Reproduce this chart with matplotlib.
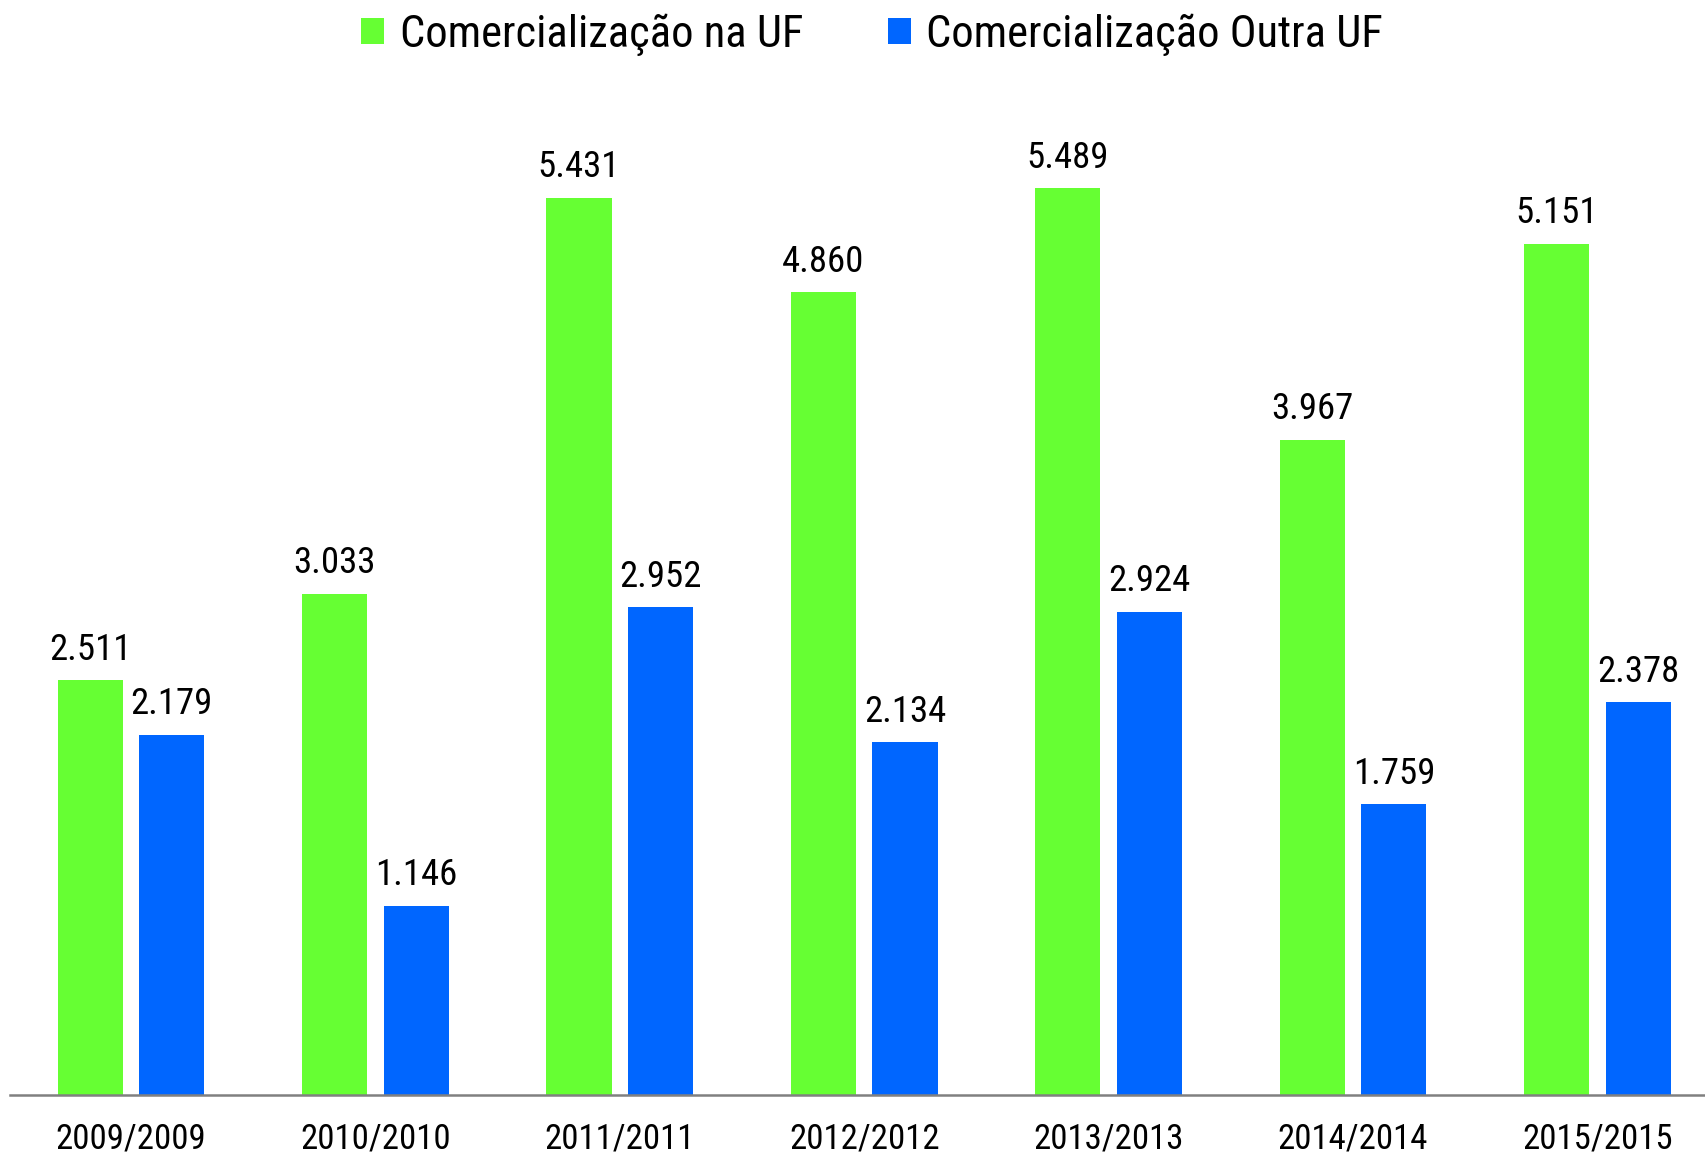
import matplotlib
matplotlib.use("Agg")
import matplotlib.pyplot as plt
from matplotlib import font_manager
import numpy as np

# Data
categories = ["2009/2009", "2010/2010", "2011/2011", "2012/2012",
              "2013/2013", "2014/2014", "2015/2015"]
na_uf = [2511, 3033, 5431, 4860, 5489, 3967, 5151]
outra_uf = [2179, 1146, 2952, 2134, 2924, 1759, 2378]
series_names = ["Comercialização na UF", "Comercialização Outra UF"]

GREEN = "#66FF33"
BLUE = "#0066FF"

# Prefer a narrow sans-serif face for all text
fonts = font_manager.fontManager.ttflist
names = {f.name for f in fonts}
narrow = None
for cand in ["Liberation Sans Narrow", "Arial Narrow", "Roboto Condensed",
             "Open Sans Condensed", "Noto Sans Display"]:
    if cand in names:
        narrow = cand
        break
stretch = "normal"
if narrow is None:
    for f in fonts:
        st = str(f.stretch)
        if ("ondensed" in st or st.isdigit() and int(st) < 500 or
                "Narrow" in f.name or "Condensed" in f.name):
            narrow = f.name
            stretch = "condensed"
            break
family = [narrow] if narrow else []
family += ["Liberation Sans", "DejaVu Sans"]
plt.rcParams["font.family"] = family
plt.rcParams["font.stretch"] = stretch

W, H = 1705, 1159
fig = plt.figure(figsize=(W / 100, H / 100), dpi=100)
ax_left = 10 / W
ax_bottom = (H - 1095) / H
ax_top = (H - 102) / H
ax = fig.add_axes([ax_left, ax_bottom, 1 - ax_left, ax_top - ax_bottom])

x = np.arange(len(categories))
off = 0.167
bw = 0.267
b1 = ax.bar(x - off, na_uf, width=bw, color=GREEN, label=series_names[0])
b2 = ax.bar(x + off, outra_uf, width=bw, color=BLUE, label=series_names[1])

fmt = lambda v: f"{v:,}".replace(",", ".")
for bars, vals in ((b1, na_uf), (b2, outra_uf)):
    for rect, v in zip(bars, vals):
        ax.annotate(fmt(v), (rect.get_x() + rect.get_width() / 2, v),
                    xytext=(0, 9), textcoords="offset points",
                    ha="center", va="bottom", fontsize=26.5, color="black")

ax.set_xlim(-0.495, 6.44)
ax.set_ylim(0, 6010)
ax.set_xticks(x)
ax.set_xticklabels(categories, fontsize=25)
ax.tick_params(axis="x", length=0, pad=20)
ax.set_yticks([])
for s in ("left", "right", "top"):
    ax.spines[s].set_visible(False)
ax.spines["bottom"].set_color("#808080")
ax.spines["bottom"].set_linewidth(1.8)

fig.legend(handles=[b1, b2], labels=series_names, loc="center",
           bbox_to_anchor=(872 / W, 1 - 35 / H), ncol=2, frameon=False,
           fontsize=32, handlelength=0.52, handleheight=0.52,
           handletextpad=0.35, columnspacing=1.9)

fig.savefig("out.png", dpi=100)
